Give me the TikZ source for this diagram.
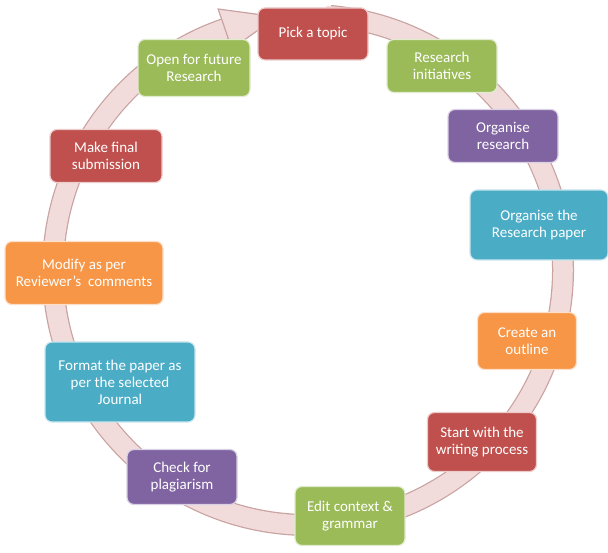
\documentclass[tikz,border=0pt]{standalone}
\usepackage{fontspec}
\setmainfont{Carlito}
\begin{document}
\begin{tikzpicture}[x=1pt,y=1pt,
 box/.style={rounded corners=7pt,draw=white!70!#1,line width=1.2pt,fill=#1,text=white,align=center,font=\fontsize{15}{17}\selectfont,inner sep=2pt}]
\definecolor{cred}{HTML}{C0504D}\definecolor{cgreen}{HTML}{9BBB59}
\definecolor{cpurple}{HTML}{8064A2}\definecolor{cteal}{HTML}{4BACC6}
\definecolor{corange}{HTML}{F79646}
\definecolor{ringfill}{HTML}{F2DCDB}\definecolor{ringline}{HTML}{C9A3A2}
\useasboundingbox (0,0) rectangle (608,553);
\coordinate (c) at (308,283);
\draw[ringline,line width=22pt] ([shift={(85:255)}]c) arc[start angle=85,end angle=-251,radius=255];
\draw[ringfill,line width=19.5pt] ([shift={(86:255)}]c) arc[start angle=86,end angle=-251.5,radius=255];
\draw[fill=ringfill,draw=ringline,line width=1.2pt] ([shift={(-251:234)}]c) -- ([shift={(-251:276)}]c) -- ([shift={(-263:255)}]c) -- cycle;
\node[box=cred,minimum width=110,minimum height=52] (n1) at (313,519) {Pick a topic};
\node[box=cgreen,minimum width=110,minimum height=53] (n2) at (442,487) {Research\\initiatives};
\node[box=cpurple,minimum width=110,minimum height=53] (n3) at (503,417) {Organise\\research};
\node[box=cteal,minimum width=138,minimum height=70] (n4) at (539,328) {Organise the\\Research paper};
\node[box=corange,minimum width=99,minimum height=57] (n5) at (527,212) {Create an\\outline};
\node[box=cred,minimum width=109,minimum height=59] (n6) at (482,111) {Start with the\\writing process};
\node[box=cgreen,minimum width=110,minimum height=59] (n7) at (350,37) {Edit context \&\\grammar};
\node[box=cpurple,minimum width=110,minimum height=55] (n8) at (182,76) {Check for\\plagiarism};
\node[box=cteal,minimum width=150,minimum height=80] (n9) at (120,171) {Format the paper as\\per the selected\\Journal};
\node[box=corange,minimum width=158,minimum height=63] (n10) at (84,280) {Modify as per\\Reviewer’s\ \ comments};
\node[box=cred,minimum width=112,minimum height=53] (n11) at (106,397) {Make final\\submission};
\node[box=cgreen,minimum width=112,minimum height=57] (n12) at (194,485) {Open for future\\Research};
\end{tikzpicture}
\end{document}
